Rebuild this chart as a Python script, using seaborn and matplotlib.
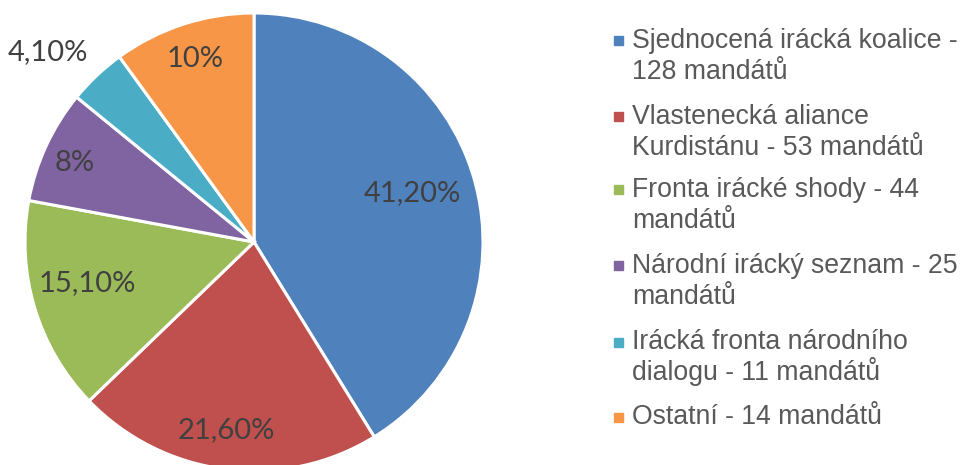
import matplotlib
matplotlib.use("Agg")
import matplotlib.pyplot as plt
import numpy as np
import seaborn as sns

# chart data
parties = [
    "Sjednocená irácká koalice -\n128 mandátů",
    "Vlastenecká aliance\nKurdistánu - 53 mandátů",
    "Fronta irácké shody - 44\nmandátů",
    "Národní irácký seznam - 25\nmandátů",
    "Irácká fronta národního\ndialogu - 11 mandátů",
    "Ostatní - 14 mandátů",
]
shares = [41.2, 21.6, 15.1, 8.0, 4.1, 10.0]
share_labels = ["41,20%", "21,60%", "15,10%", "8%", "4,10%", "10%"]
colors = ["#4F81BD", "#C0504D", "#9BBB59", "#8064A2", "#4BACC6", "#F79646"]

# data label placement: distance (fraction of radius) and angle tweak from wedge middle
label_dist = [0.722, 0.83, 0.751, 0.855, 1.224, 0.838]
label_shift = [1.4, -1.3, -2.9, 1.2, 3.9, 0.0]

sns.set_style("white")
plt.rcParams["font.family"] = ["Liberation Sans", "DejaVu Sans"]

W, H = 961, 465
fig = plt.figure(figsize=(W / 100, H / 100), dpi=100)

# pie axes placed in pixel terms: centre (254, 242), radius 229
cx, cy, r = 254, 242, 229
ax = fig.add_axes([(cx - r) / W, (H - cy - r) / H, 2 * r / W, 2 * r / H])
wedges, _ = ax.pie(shares, colors=colors, startangle=90, counterclock=False,
                   radius=1.0, wedgeprops=dict(edgecolor="white", linewidth=2.2))
ax.set_xlim(-1, 1)
ax.set_ylim(-1, 1)
ax.set_aspect("equal")
ax.axis("off")

for w, lab, d, s in zip(wedges, share_labels, label_dist, label_shift):
    ang = np.deg2rad((w.theta1 + w.theta2) / 2 + s)
    ax.text(d * np.cos(ang), d * np.sin(ang), lab, ha="center", va="center",
            fontsize=21, color="#404040", family=["Lato", "DejaVu Sans"],
            clip_on=False)

# legend: square marker beside the first line of each entry
baselines = [48, 124, 197, 273, 349, 424]
line_px = 31
for lab, col, yb in zip(parties, colors, baselines):
    for i, line in enumerate(lab.split("\n")):
        fig.text(632 / W, 1 - (yb + i * line_px) / H, line, ha="left",
                 va="baseline", fontsize=19.2, color="#595959")
    fig.patches.append(plt.Rectangle((614 / W, 1 - (yb - 2.5) / H), 9 / W, 9 / H,
                                     transform=fig.transFigure, color=col,
                                     figure=fig))

fig.savefig("out.png", dpi=100)
